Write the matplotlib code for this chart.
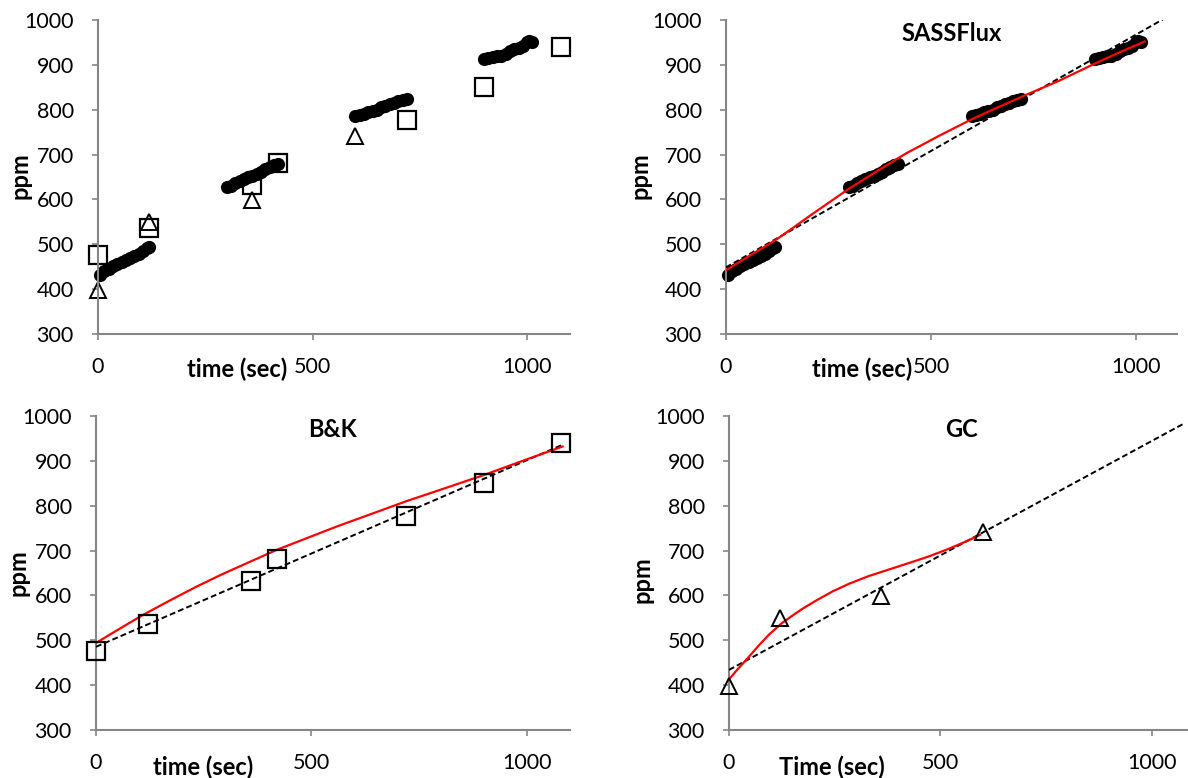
import matplotlib
matplotlib.use("Agg")
import matplotlib.pyplot as plt
import numpy as np

plt.rcParams['font.family'] = ['Lato', 'DejaVu Sans']

# ---------------- data ----------------
# SASSFlux continuous measurements (four chamber periods)
sass_t = [5, 15, 25, 35, 45, 55, 65, 75, 85, 95, 105, 115, 120,
          300, 310, 320, 330, 340, 350, 360, 370, 380, 390, 400, 410, 420,
          600, 610, 620, 630, 640, 650, 660, 670, 680, 690, 700, 710, 720,
          900, 910, 920, 930, 940, 950, 960, 970, 980, 990, 1000, 1005, 1012]
sass_ppm = [431, 440, 446, 452, 455, 461, 465, 469, 474, 478, 484, 491, 495,
            628, 631, 636, 640, 645, 649, 653, 657, 662, 667, 672, 677, 680,
            785, 789, 791, 794, 797, 800, 805, 808, 813, 816, 820, 822, 823,
            912, 916, 918, 919, 920, 924, 932, 936, 938, 942, 950, 953, 950]

# B&K samples
bk_t = [0, 120, 360, 420, 720, 900, 1080]
bk_ppm = [476, 537, 633, 682, 778, 851, 939]

# GC samples
gc_t = [0, 120, 360, 600]
gc_ppm = [398, 550, 598, 741]

# model curves (red)
sass_model_t = [0, 60, 122, 210, 300, 370, 438, 520, 600, 665, 729, 811, 900, 960, 1021]
sass_model_ppm = [442, 476, 510, 567, 624, 664, 702, 742, 779, 806, 832, 864, 903, 928, 952]

bk_model_t = [0, 50, 108, 170, 232, 290, 348, 418, 490, 557, 640, 720, 810, 902, 990, 1083]
bk_model_ppm = [494, 523, 556, 588, 619, 646, 671, 701, 728, 753, 782, 810, 839, 869, 900, 932]

gc_model_t = [0, 20, 47, 70, 95, 126, 150, 175, 205, 245, 284, 330, 379, 425, 473, 520, 560, 594]
gc_model_ppm = [413, 435, 463, 488, 513, 539, 555, 571, 588, 609, 626, 643, 658, 672, 687, 704, 720, 735]

xticks = [0, 500, 1000]
yticks = [300, 400, 500, 600, 700, 800, 900, 1000]

# ---------------- figure ----------------
W, H = 1188, 778
fig = plt.figure(figsize=(W / 100, H / 100), dpi=100)

def rect(left, right, top, bottom):
    return [left / W, 1 - bottom / H, (right - left) / W, (bottom - top) / H]

ax_tl = fig.add_axes(rect(98, 570, 20, 334))
ax_tr = fig.add_axes(rect(726, 1177, 20, 334))
ax_bl = fig.add_axes(rect(96, 570, 416, 730))
ax_br = fig.add_axes(rect(729, 1194, 416, 730))

GRAY = '#868686'
DASH = dict(color='black', lw=1.4, dashes=(3, 1.6))
RED = dict(color='#ff0000', lw=1.6)
SQ = dict(marker='s', ls='none', mfc='none', mec='black', ms=12.5, mew=1.6, clip_on=False)
TRI = dict(marker='^', ls='none', mfc='none', mec='black', ms=11, mew=1.4, clip_on=False)
DOT = dict(marker='o', ls='none', color='black', ms=9.5, mew=0, clip_on=False)

def style(ax):
    ax.set_xlim(0, 1100)
    ax.set_ylim(300, 1000)
    ax.set_xticks(xticks)
    ax.set_yticks(yticks)
    for s in ['top', 'right']:
        ax.spines[s].set_visible(False)
    for s in ['left', 'bottom']:
        ax.spines[s].set_color(GRAY)
        ax.spines[s].set_linewidth(1.5)
    ax.tick_params(axis='both', direction='out', length=4.5, width=1.2,
                   color=GRAY, labelsize=15.5, labelcolor='black')
    ax.tick_params(axis='y', pad=13)
    ax.tick_params(axis='x', pad=12)
    ax.patch.set_alpha(0)

for ax in (ax_tl, ax_tr, ax_bl, ax_br):
    style(ax)

TITLE = dict(fontsize=17, fontweight='bold', y=0.905)

# top-left: all data
ax_tl.plot(sass_t, sass_ppm, **DOT)
ax_tl.plot(bk_t, bk_ppm, **SQ)
ax_tl.plot(gc_t, gc_ppm, **TRI)

# top-right: SASSFlux
ax_tr.plot(sass_t, sass_ppm, zorder=2, **DOT)
m, b = np.polyfit(sass_t, sass_ppm, 1)
xx = np.array([0, 1100])
ax_tr.plot(xx, m * xx + b, zorder=3, **DASH)
ax_tr.plot(sass_model_t, sass_model_ppm, zorder=4, **RED)
ax_tr.set_title('SASSFlux', **TITLE)

# bottom-left: B&K
m, b = np.polyfit(bk_t, bk_ppm, 1)
xx = np.array([0, 1080])
ax_bl.plot(xx, m * xx + b, zorder=3, **DASH)
ax_bl.plot(bk_model_t, bk_model_ppm, zorder=4, **RED)
ax_bl.plot(bk_t, bk_ppm, zorder=5, **SQ)
ax_bl.set_title('B&K', **TITLE)

# bottom-right: GC
m, b = np.polyfit(gc_t, gc_ppm, 1)
xx = np.array([0, 1075])
ax_br.plot(xx, m * xx + b, zorder=3, **DASH)
ax_br.plot(gc_model_t, gc_model_ppm, zorder=4, **RED)
ax_br.plot(gc_t, gc_ppm, zorder=5, **TRI)
ax_br.set_title('GC', **TITLE)

# axis titles (Excel-style placement)
lab = dict(fontsize=17, fontweight='bold', ha='center', va='center')
fig.text(237 / W, 1 - 369 / H, 'time (sec)', **lab)
fig.text(862 / W, 1 - 369 / H, 'time (sec)', **lab)
fig.text(203 / W, 1 - 767 / H, 'time (sec)', **lab)
fig.text(832 / W, 1 - 767 / H, 'Time (sec)', **lab)
fig.text(20 / W, 1 - 176 / H, 'ppm', rotation=90, **lab)
fig.text(640 / W, 1 - 176 / H, 'ppm', rotation=90, **lab)
fig.text(18 / W, 1 - 573 / H, 'ppm', rotation=90, **lab)
fig.text(642 / W, 1 - 580 / H, 'ppm', rotation=90, **lab)

fig.savefig('out.png', dpi=100, facecolor='white')
